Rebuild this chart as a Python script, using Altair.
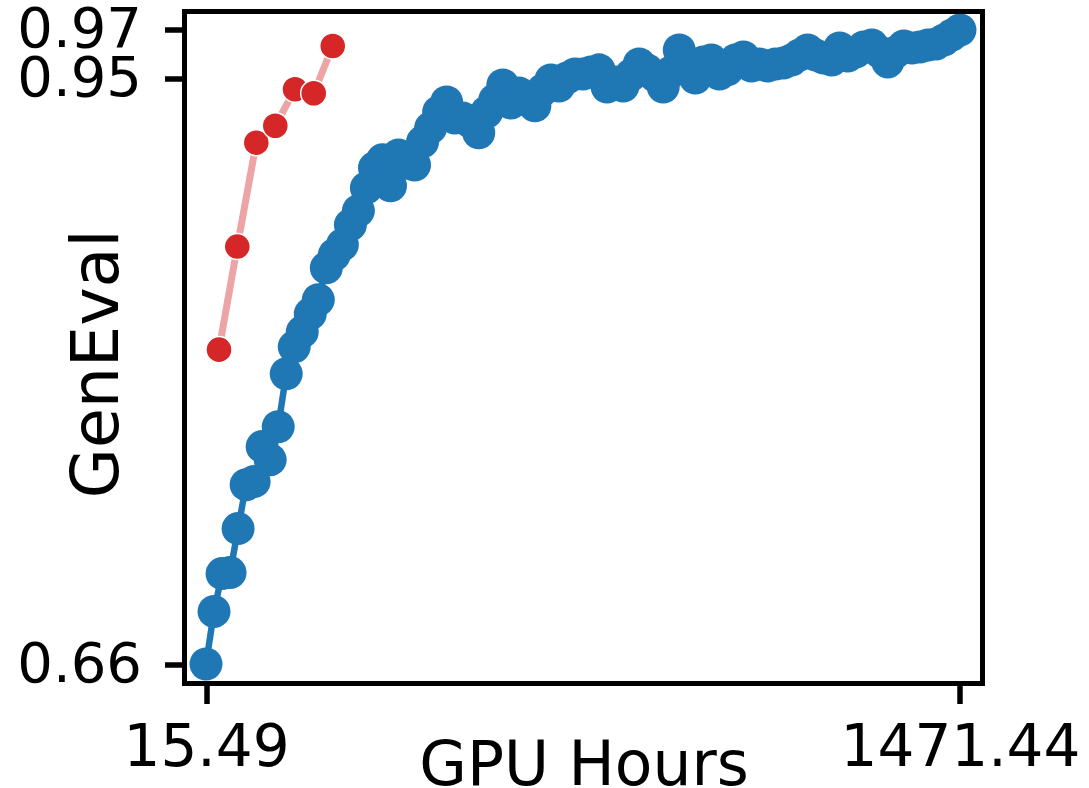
import altair as alt
import pandas as pd

# ---- data ----
blue_x = [15.49, 30.98, 46.47, 61.96, 77.44, 92.93, 108.42, 123.91, 139.40, 154.89,
          170.38, 185.87, 201.35, 216.84, 232.33, 247.82, 263.31, 278.80, 294.29, 309.78,
          325.26, 340.75, 356.24, 371.73, 387.22, 402.71, 418.20, 433.69, 449.18, 464.66,
          480.15, 495.64, 511.13, 526.62, 542.11, 557.60, 573.09, 588.57, 604.06, 619.55,
          635.04, 650.53, 666.02, 681.51, 697.00, 712.48, 727.97, 743.46, 758.95, 774.44,
          789.93, 805.42, 820.91, 836.40, 851.88, 867.37, 882.86, 898.35, 913.84, 929.33,
          944.82, 960.31, 975.79, 991.28, 1006.77, 1022.26, 1037.75, 1053.24, 1068.73, 1084.22,
          1099.70, 1115.19, 1130.68, 1146.17, 1161.66, 1177.15, 1192.64, 1208.13, 1223.62, 1239.10,
          1254.59, 1270.08, 1285.57, 1301.06, 1316.55, 1332.04, 1347.53, 1363.01, 1378.50, 1393.99,
          1409.48, 1424.97, 1440.46, 1455.95, 1471.44]
blue_y = [0.660, 0.6857, 0.7042, 0.7047, 0.7262, 0.7477, 0.7492, 0.7663, 0.7599, 0.7760,
          0.8019, 0.8151, 0.8224, 0.8312, 0.8381, 0.8537, 0.8601, 0.8650, 0.8747, 0.8816,
          0.8928, 0.9026, 0.9065, 0.8938, 0.9089, 0.9050, 0.9040, 0.9153, 0.9221, 0.9299,
          0.9348, 0.9270, 0.9270, 0.9250, 0.9197, 0.9299, 0.9358, 0.9431, 0.9343, 0.9392,
          0.9358, 0.9329, 0.9407, 0.9456, 0.9426, 0.9465, 0.9485, 0.9485, 0.9495, 0.9505,
          0.9421, 0.9446, 0.9426, 0.9480, 0.9534, 0.9505, 0.9475, 0.9421, 0.9495, 0.9602,
          0.9505, 0.9465, 0.9544, 0.9553, 0.9485, 0.9505, 0.9553, 0.9568, 0.9524, 0.9534,
          0.9524, 0.9534, 0.9539, 0.9553, 0.9578, 0.9602, 0.9578, 0.9563, 0.9553, 0.9612,
          0.9573, 0.9592, 0.9617, 0.9627, 0.9592, 0.9544, 0.9592, 0.9622, 0.9612, 0.9617,
          0.9627, 0.9632, 0.9651, 0.9676, 0.9700]

red_x = [40.6, 75.9, 112.6, 149.3, 187.4, 223.5, 260.2]
red_y = [0.8137, 0.8641, 0.9149, 0.9232, 0.9410, 0.9391, 0.9622]

x_ticks = [15.49, 1471.44]
y_ticks = [0.66, 0.9463, 0.97]
x_domain = [-26.03, 1514.89]
y_domain = [0.65047, 0.97904]

blue = pd.DataFrame({"hours": blue_x, "geneval": blue_y})
red = pd.DataFrame({"hours": red_x, "geneval": red_y})

FONT = "DejaVu Sans"
W, H = 798, 672

x_enc = alt.X(
    "hours:Q",
    scale=alt.Scale(domain=x_domain, nice=False, zero=False),
    axis=alt.Axis(
        values=x_ticks, format=".2f", title="GPU Hours",
        labelFontSize=58, titleFontSize=61.5, labelFont=FONT, titleFont=FONT,
        labelColor="black", titleColor="black", titleFontWeight="normal",
        tickSize=20, tickWidth=5.5, tickColor="black", domain=False, grid=False,
        labelPadding=16, labelFlush=False, labelOverlap=False, labelLimit=500,
        titleY=101, titleBaseline="alphabetic",
    ),
)
y_enc = alt.Y(
    "geneval:Q",
    scale=alt.Scale(domain=y_domain, nice=False, zero=False),
    axis=alt.Axis(
        values=y_ticks, format=".2f", title="GenEval",
        labelFontSize=56, titleFontSize=65, labelFont=FONT, titleFont=FONT,
        labelColor="black", titleColor="black", titleFontWeight="normal",
        tickSize=20, tickWidth=5.5, tickColor="black", domain=False, grid=False,
        labelPadding=23, labelOverlap=False, labelLimit=500,
        titleX=-67, titleY=352, titleBaseline="alphabetic", titleAngle=-90,
        titleAlign="center",
    ),
)

blue_line = alt.Chart(blue).mark_line(color="#1f77b4", strokeWidth=6.5).encode(x=x_enc, y=y_enc)
blue_pts = alt.Chart(blue).mark_circle(color="#1f77b4", opacity=1, size=1089).encode(x=x_enc, y=y_enc)
red_line = alt.Chart(red).mark_line(color="#eda4a4", strokeWidth=7).encode(x=x_enc, y=y_enc)
red_pts = alt.Chart(red).mark_point(
    shape="circle", filled=True, fill="#d62728", stroke="white", strokeWidth=1.5,
    opacity=1, size=680,
).encode(x=x_enc, y=y_enc)

frame = alt.Chart(pd.DataFrame({"k": [0]})).mark_rect(
    filled=False, stroke="black", strokeWidth=5, fill=None
).encode(x=alt.value(0), x2=alt.value(W), y=alt.value(0), y2=alt.value(H))

chart = (
    alt.layer(blue_line, blue_pts, red_line, red_pts, frame)
    .properties(
        width=W, height=H,
        autosize=alt.AutoSizeParams(type="none"),
        padding={"left": 184.5, "top": 11.5, "right": 106.5, "bottom": 104.5},
        background="white",
    )
    .configure_view(strokeWidth=0)
)

chart.save("out.html", embed_options={"renderer": "svg", "actions": False})
